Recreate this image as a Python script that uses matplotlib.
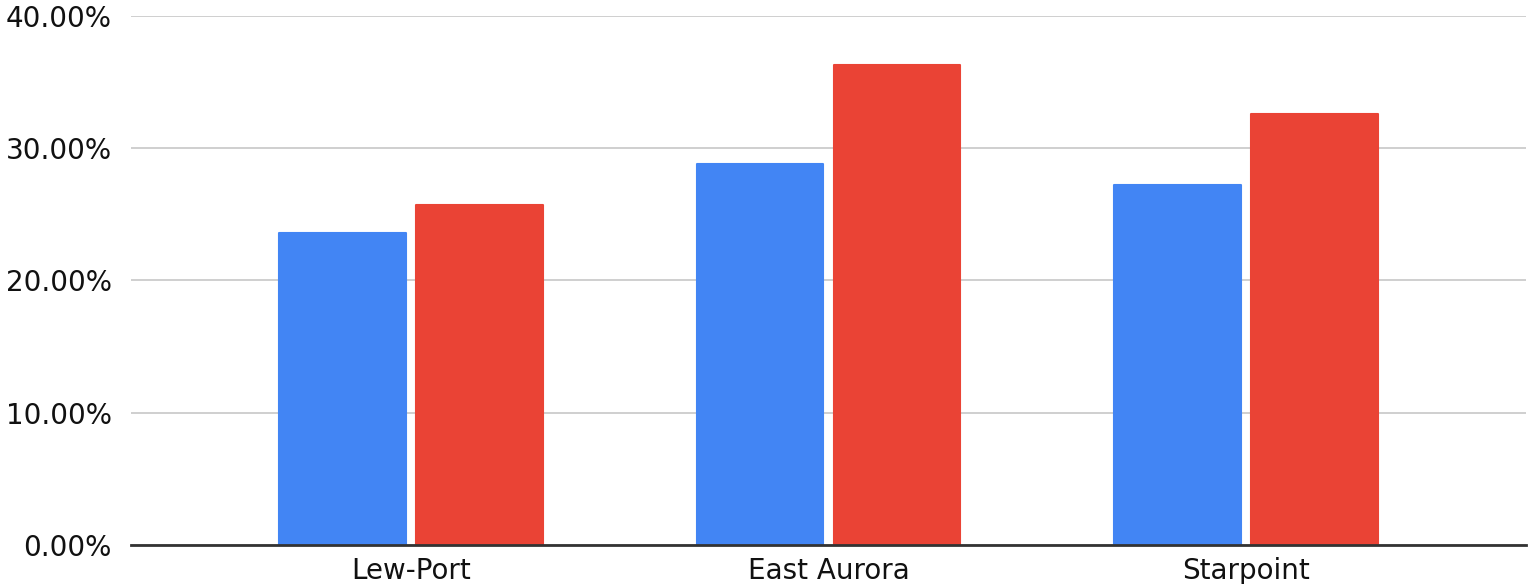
import numpy as np
import matplotlib.pyplot as plt
from matplotlib.ticker import FuncFormatter

plt.rcParams['font.family'] = ['DejaVu Sans']

# data
schools = ['Lew-Port', 'East Aurora', 'Starpoint']
series_blue = [0.2359, 0.2880, 0.2722]
series_red = [0.2569, 0.3627, 0.3259]

fig = plt.figure(figsize=(15.28, 5.84), dpi=100)
ax = fig.add_axes([0.0857, 0.0668, 0.913, 0.9058])

x = np.arange(len(schools))
w = 0.303
off = 0.164
ax.bar(x - off, series_blue, w, color='#4285f4', edgecolor='#4285f4',
       linewidth=1.5, joinstyle='round', zorder=3)
ax.bar(x + off, series_red, w, color='#ea4335', edgecolor='#ea4335',
       linewidth=1.5, joinstyle='round', zorder=3)

ax.set_xlim(-0.67, 2.67)
ax.set_ylim(0, 0.40)
ax.set_yticks([0, 0.1, 0.2, 0.3, 0.4])
ax.yaxis.set_major_formatter(FuncFormatter(lambda v, p: f'{v*100:.2f}%'))
ax.set_xticks(x)
ax.set_xticklabels(schools)

ax.grid(axis='y', color='#cccccc', linewidth=1.3, zorder=0)
for s in ['top', 'right', 'left']:
    ax.spines[s].set_visible(False)
ax.spines['bottom'].set_color('#333333')
ax.spines['bottom'].set_linewidth(2)
ax.spines['bottom'].set_zorder(4)
ax.tick_params(axis='both', length=0, labelsize=20, colors='#111111')
ax.tick_params(axis='y', pad=14)
ax.tick_params(axis='x', pad=9)

fig.savefig('out.png', dpi=100)
